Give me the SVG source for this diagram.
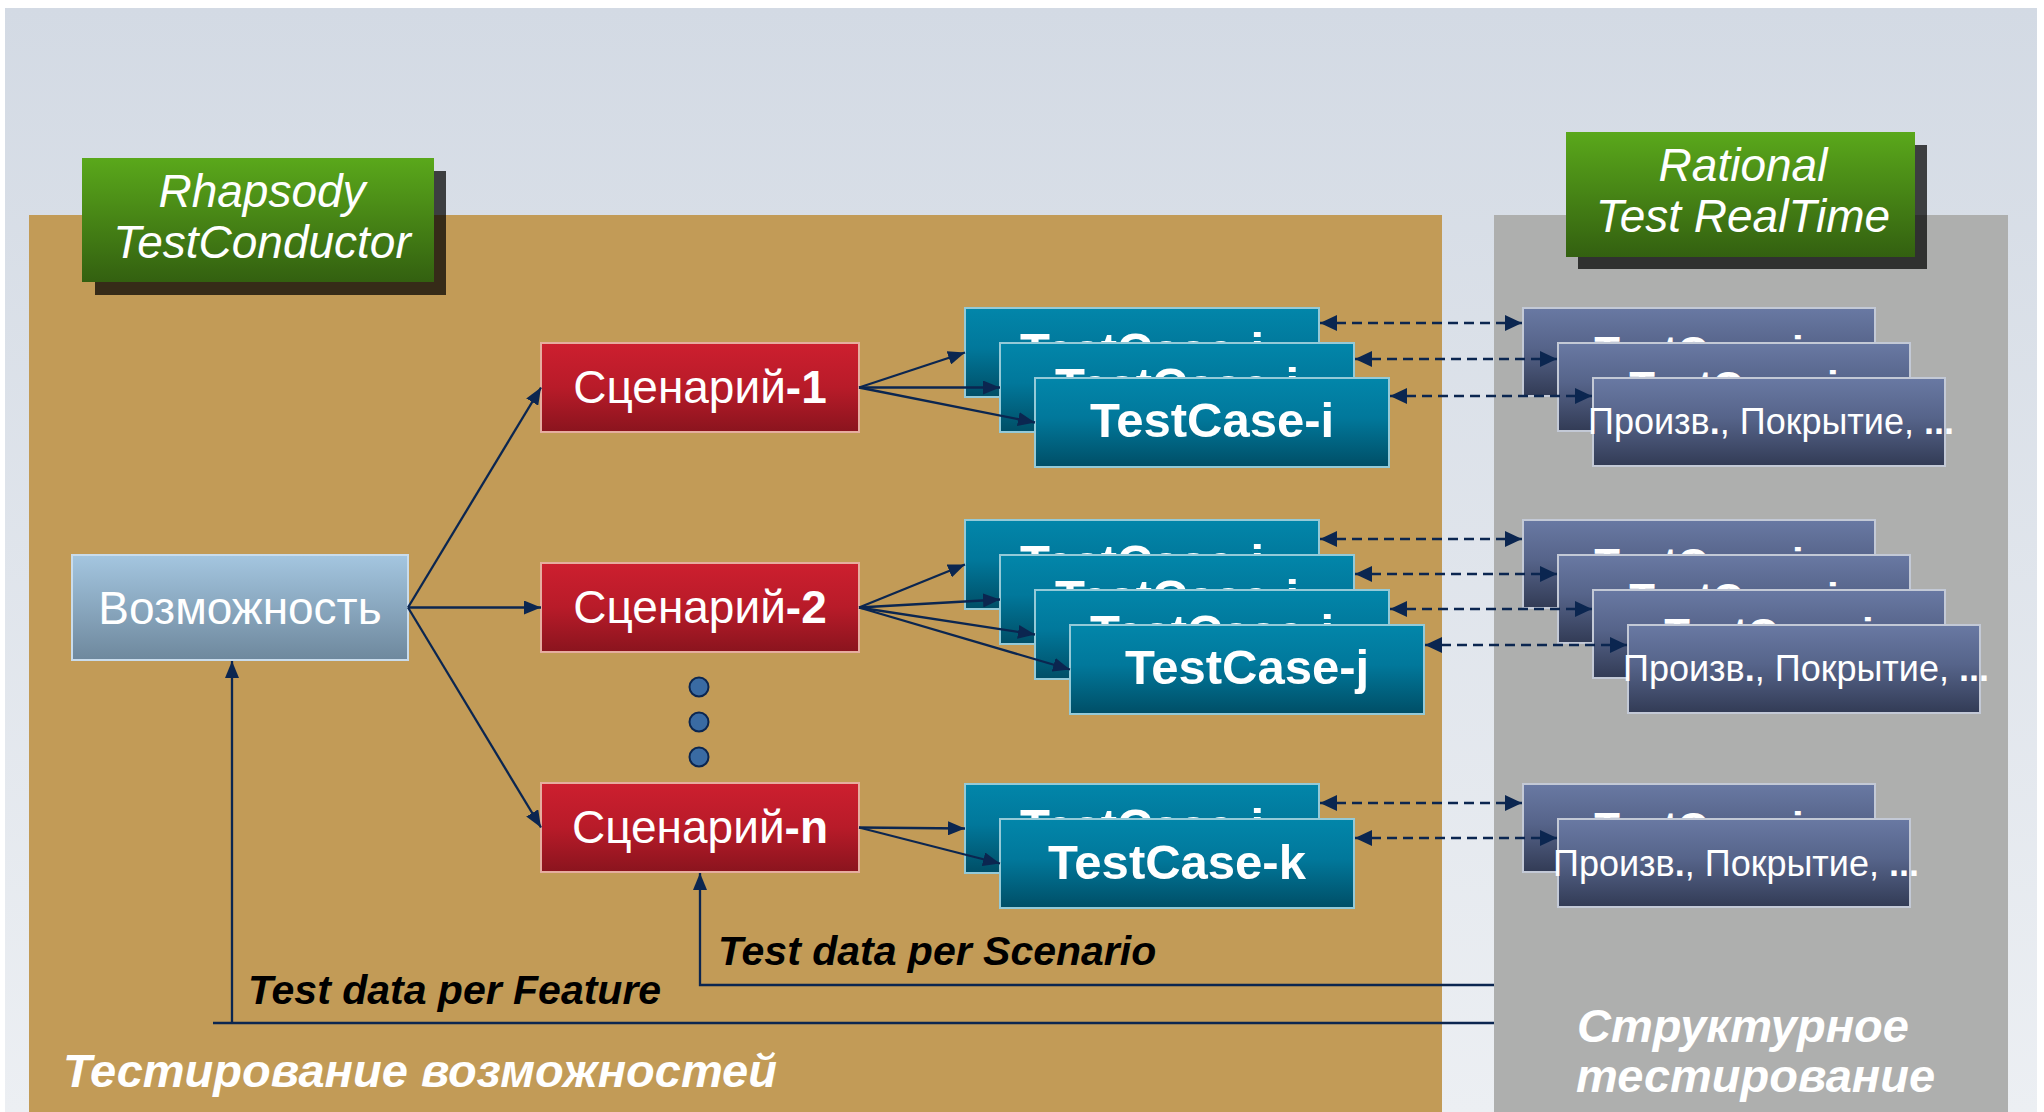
<svg xmlns="http://www.w3.org/2000/svg" width="2044" height="1112" viewBox="0 0 2044 1112">
<defs>
  <linearGradient id="bg" x1="0" y1="0" x2="0" y2="1">
    <stop offset="0" stop-color="#d3dae4"/>
    <stop offset="1" stop-color="#eceff3"/>
  </linearGradient>
  <linearGradient id="green" x1="0" y1="0" x2="0" y2="1">
    <stop offset="0" stop-color="#5aa81b"/>
    <stop offset="1" stop-color="#336010"/>
  </linearGradient>
  <linearGradient id="red" x1="0" y1="0" x2="0" y2="1">
    <stop offset="0" stop-color="#cd1f2f"/>
    <stop offset="0.5" stop-color="#b81b29"/>
    <stop offset="1" stop-color="#8a141e"/>
  </linearGradient>
  <linearGradient id="blue" x1="0" y1="0" x2="0" y2="1">
    <stop offset="0" stop-color="#a4c6e0"/>
    <stop offset="1" stop-color="#6e889d"/>
  </linearGradient>
  <linearGradient id="teal" x1="0" y1="0" x2="0" y2="1">
    <stop offset="0" stop-color="#0286aa"/>
    <stop offset="0.45" stop-color="#01789b"/>
    <stop offset="1" stop-color="#004e66"/>
  </linearGradient>
  <linearGradient id="slate" x1="0" y1="0" x2="0" y2="1">
    <stop offset="0" stop-color="#6979a3"/>
    <stop offset="0.45" stop-color="#56648a"/>
    <stop offset="1" stop-color="#323b55"/>
  </linearGradient>
  <marker id="ah" viewBox="0 0 17 14" refX="17" refY="7" markerWidth="17" markerHeight="14" markerUnits="userSpaceOnUse" orient="auto">
    <path d="M0,0 L17,7 L0,14 z" fill="#0b2650"/>
  </marker>
  <marker id="ad" viewBox="0 0 17 16" refX="17" refY="8" markerWidth="17" markerHeight="16" markerUnits="userSpaceOnUse" orient="auto-start-reverse">
    <path d="M0,0 L17,8 L0,16 z" fill="#0b2650"/>
  </marker>
</defs>
<style>
  .f { font-family: "Liberation Sans", Arial, sans-serif; }
  .w { fill: #ffffff; }
  .tc { fill: url(#teal); stroke: #94cad8; stroke-width: 2; }
  .rt { fill: url(#slate); stroke: #c3c9d6; stroke-width: 2; }
  .sc { fill: url(#red); stroke: #e6ad9f; stroke-width: 2; }
  .gr { fill: url(#green); }
  .sh { fill: #000000; fill-opacity: 0.72; }
  .tct { font-size: 49px; font-weight: bold; text-anchor: middle; }
  .rth { font-size: 42px; font-weight: bold; text-anchor: middle; }
  .rtt { font-size: 36px; text-anchor: middle; }
  .sct { font-size: 46px; text-anchor: middle; }
  .hd { font-size: 46px; font-style: italic; text-anchor: middle; }
  .lbl { font-size: 41px; font-weight: bold; font-style: italic; fill: #000000; }
  .big { font-size: 47px; font-weight: bold; font-style: italic; }
  .ln { fill: none; stroke: #0b2650; stroke-width: 2.3; }
  .dl { fill: none; stroke: #0b2650; stroke-width: 2.5; stroke-dasharray: 10 6; marker-start: url(#ad); marker-end: url(#ad); }
</style>

<!-- background and panels -->
<rect x="5" y="8" width="2032" height="1104" fill="url(#bg)"/>
<rect x="29" y="215" width="1413" height="897" fill="#c29b57"/>
<rect x="1494" y="215" width="514" height="897" fill="#aeafae"/>

<g id="tool-rhapsody">
  <rect class="sh" x="95" y="171" width="351" height="124"/>
  <rect class="gr" x="82" y="158" width="352" height="124"/>
  <text class="f w hd" x="262" y="207" font-size="47">Rhapsody</text>
  <text class="f w hd" x="262" y="258" font-size="47">TestConductor</text>
</g>
<g id="tool-rtrt">
  <rect class="sh" x="1578" y="145" width="349" height="124"/>
  <rect class="gr" x="1566" y="132" width="349" height="125"/>
  <text class="f w hd" x="1743" y="181">Rational</text>
  <text class="f w hd" x="1743" y="232">Test RealTime</text>
</g>

<g id="feature">
  <rect x="72" y="555" width="336" height="105" fill="url(#blue)" stroke="#c9dcec" stroke-width="2"/>
  <text class="f w sct" x="240" y="624" font-size="47.5">Возможность</text>
</g>

<g id="scenario-1">
  <rect class="sc" x="541" y="343" width="318" height="89"/>
  <text class="f w sct" x="700" y="403">Сценарий<tspan font-weight="bold">-1</tspan></text>
</g>
<g id="scenario-2">
  <rect class="sc" x="541" y="563" width="318" height="89"/>
  <text class="f w sct" x="700" y="623">Сценарий<tspan font-weight="bold">-2</tspan></text>
</g>
<g id="scenario-n">
  <rect class="sc" x="541" y="783" width="318" height="89"/>
  <text class="f w sct" x="700" y="843">Сценарий<tspan font-weight="bold">-n</tspan></text>
</g>
<g id="ellipsis">
  <circle cx="699" cy="687" r="9.5" fill="#3a6ba3" stroke="#0b2650" stroke-width="2"/>
  <circle cx="699" cy="722" r="9.5" fill="#3a6ba3" stroke="#0b2650" stroke-width="2"/>
  <circle cx="699" cy="757" r="9.5" fill="#3a6ba3" stroke="#0b2650" stroke-width="2"/>
</g>

<!-- TestCase group 1 -->
<g id="tc1-a"><rect class="tc" x="965" y="308" width="354" height="89"/><text class="f w tct" x="1142" y="367">TestCase-i</text></g>
<g id="tc1-b"><rect class="tc" x="1000" y="343" width="354" height="89"/><text class="f w tct" x="1177" y="402">TestCase-i</text></g>
<g id="tc1-c"><rect class="tc" x="1035" y="378" width="354" height="89"/><text class="f w tct" x="1212" y="437">TestCase-i</text></g>
<!-- TestCase group 2 -->
<g id="tc2-a"><rect class="tc" x="965" y="520" width="354" height="89"/><text class="f w tct" x="1142" y="579">TestCase-i</text></g>
<g id="tc2-b"><rect class="tc" x="1000" y="555" width="354" height="89"/><text class="f w tct" x="1177" y="614">TestCase-i</text></g>
<g id="tc2-c"><rect class="tc" x="1035" y="590" width="354" height="89"/><text class="f w tct" x="1212" y="649">TestCase-i</text></g>
<g id="tc2-d"><rect class="tc" x="1070" y="625" width="354" height="89"/><text class="f w tct" x="1247" y="684">TestCase-j</text></g>
<!-- TestCase group 3 -->
<g id="tc3-a"><rect class="tc" x="965" y="784" width="354" height="89"/><text class="f w tct" x="1142" y="843">TestCase-i</text></g>
<g id="tc3-b"><rect class="tc" x="1000" y="819" width="354" height="89"/><text class="f w tct" x="1177" y="879">TestCase-k</text></g>

<!-- RTRT group 1 -->
<g id="rt1-a"><rect class="rt" x="1523" y="308" width="352" height="88"/><text class="f w rth" x="1699" y="366">TestCase-i</text></g>
<g id="rt1-b"><rect class="rt" x="1558" y="343" width="352" height="88"/><text class="f w rth" x="1734" y="401">TestCase-i</text></g>
<g id="rt1-c"><rect class="rt" x="1593" y="378" width="352" height="88"/><text class="f w rtt" x="1771" y="434">Произв<tspan font-weight="bold">.</tspan>, Покрытие, <tspan font-weight="bold">...</tspan></text></g>
<!-- RTRT group 2 -->
<g id="rt2-a"><rect class="rt" x="1523" y="520" width="352" height="88"/><text class="f w rth" x="1699" y="578">TestCase-i</text></g>
<g id="rt2-b"><rect class="rt" x="1558" y="555" width="352" height="88"/><text class="f w rth" x="1734" y="613">TestCase-i</text></g>
<g id="rt2-c"><rect class="rt" x="1593" y="590" width="352" height="88"/><text class="f w rth" x="1769" y="648">TestCase-i</text></g>
<g id="rt2-d"><rect class="rt" x="1628" y="625" width="352" height="88"/><text class="f w rtt" x="1806" y="681">Произв<tspan font-weight="bold">.</tspan>, Покрытие, <tspan font-weight="bold">...</tspan></text></g>
<!-- RTRT group 3 -->
<g id="rt3-a"><rect class="rt" x="1523" y="784" width="352" height="88"/><text class="f w rth" x="1699" y="842">TestCase-i</text></g>
<g id="rt3-b"><rect class="rt" x="1558" y="819" width="352" height="88"/><text class="f w rtt" x="1736" y="876">Произв<tspan font-weight="bold">.</tspan>, Покрытие, <tspan font-weight="bold">...</tspan></text></g>

<g id="connectors">
  <line class="ln" x1="408" y1="607.5" x2="541" y2="387.5" marker-end="url(#ah)"/>
  <line class="ln" x1="408" y1="607.5" x2="541" y2="607.5" marker-end="url(#ah)"/>
  <line class="ln" x1="408" y1="607.5" x2="541" y2="827.5" marker-end="url(#ah)"/>

  <line class="ln" x1="859" y1="387.5" x2="965" y2="352.5" marker-end="url(#ah)"/>
  <line class="ln" x1="859" y1="387.5" x2="1000" y2="387.5" marker-end="url(#ah)"/>
  <line class="ln" x1="859" y1="387.5" x2="1035" y2="422.5" marker-end="url(#ah)"/>

  <line class="ln" x1="859" y1="607.5" x2="965" y2="564.5" marker-end="url(#ah)"/>
  <line class="ln" x1="859" y1="607.5" x2="1000" y2="599.5" marker-end="url(#ah)"/>
  <line class="ln" x1="859" y1="607.5" x2="1035" y2="634.5" marker-end="url(#ah)"/>
  <line class="ln" x1="859" y1="607.5" x2="1070" y2="669.5" marker-end="url(#ah)"/>

  <line class="ln" x1="859" y1="827.5" x2="965" y2="828.5" marker-end="url(#ah)"/>
  <line class="ln" x1="859" y1="827.5" x2="1000" y2="863.5" marker-end="url(#ah)"/>

  <line class="dl" x1="1320" y1="323" x2="1522" y2="323"/>
  <line class="dl" x1="1355" y1="359" x2="1557" y2="359"/>
  <line class="dl" x1="1390" y1="396" x2="1592" y2="396"/>
  <line class="dl" x1="1320" y1="539" x2="1522" y2="539"/>
  <line class="dl" x1="1355" y1="574" x2="1557" y2="574"/>
  <line class="dl" x1="1390" y1="609" x2="1592" y2="609"/>
  <line class="dl" x1="1425" y1="645" x2="1627" y2="645"/>
  <line class="dl" x1="1320" y1="803" x2="1522" y2="803"/>
  <line class="dl" x1="1355" y1="838" x2="1557" y2="838"/>

  <polyline class="ln" points="1494,985 700,985 700,873" marker-end="url(#ah)"/>
  <line class="ln" x1="1494" y1="1023" x2="213" y2="1023"/>
  <line class="ln" x1="232" y1="1023" x2="232" y2="661" marker-end="url(#ah)"/>
</g>

<g id="labels">
  <text class="f lbl" x="718" y="965">Test data per Scenario</text>
  <text class="f lbl" x="248" y="1004">Test data per Feature</text>
  <text class="f w big" x="63" y="1087">Тестирование возможностей</text>
  <text class="f w big" x="1577" y="1042">Структурное</text>
  <text class="f w big" x="1576" y="1092">тестирование</text>
</g>
</svg>
